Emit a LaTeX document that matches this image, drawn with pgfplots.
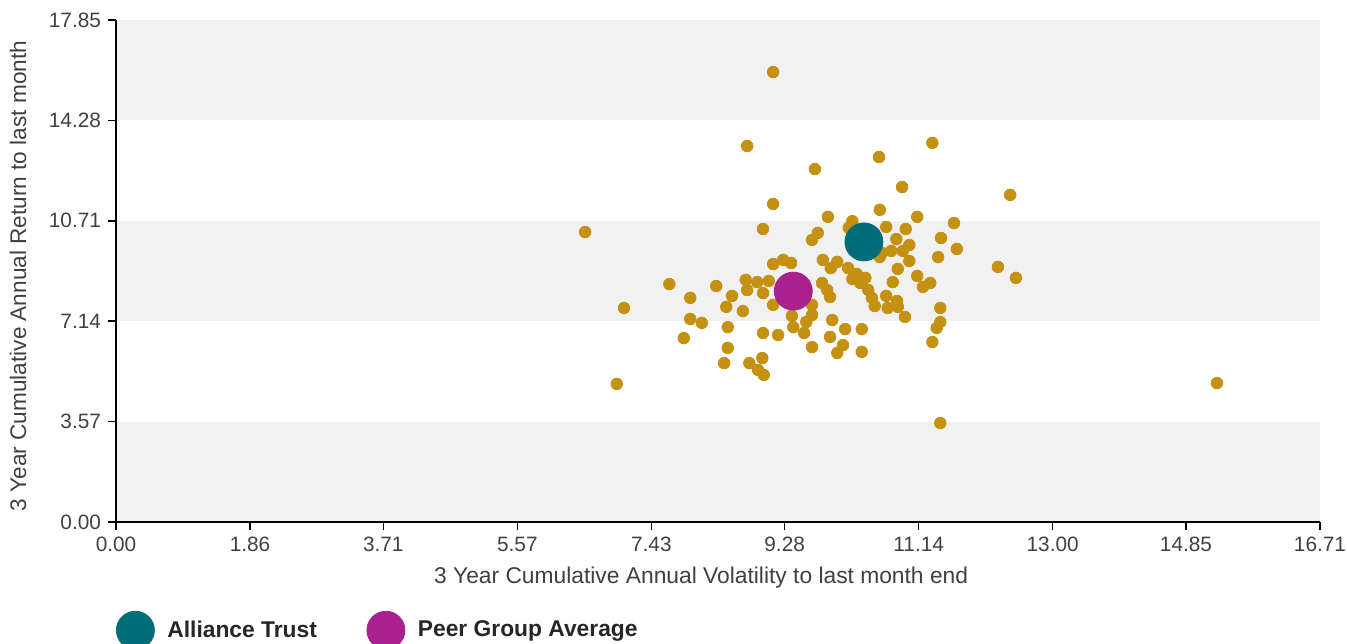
\documentclass[border=0pt]{standalone}
\usepackage{pgfplots}
\pgfplotsset{compat=1.18}
\usepackage{fontspec}
\setmainfont{Liberation Sans}
\definecolor{golddot}{HTML}{C59113}
\definecolor{tealdot}{HTML}{006E78}
\definecolor{peerdot}{HTML}{A8218F}
\definecolor{band}{HTML}{F1F1F2}
\definecolor{txt}{HTML}{404040}
\begin{document}
\begin{tikzpicture}
\path[use as bounding box] (-58pt,-60.5pt) rectangle (615.5pt,261pt);
\begin{axis}[
  scale only axis, width=602pt, height=251pt,
  xmin=0, xmax=16.71, ymin=0, ymax=17.85,
  axis on top,
  axis lines=left,
  axis line style={-, black, line width=1.1pt},
  tick align=outside, major tick length=4pt,
  tick style={black, line width=0.8pt},
  xtick={0,1.86,3.71,5.57,7.43,9.28,11.14,13.00,14.85,16.71},
  ytick={0,3.57,7.14,10.71,14.28,17.85},
  minor tick num=0,
  ticklabel style={font=\fontsize{10.4}{12}\selectfont, text=txt},
  /pgf/number format/.cd, fixed, fixed zerofill, precision=2, assume math mode=true,
  /pgfplots/.cd,
  xlabel={3 Year Cumulative Annual Volatility to last month end},
  ylabel={3 Year Cumulative Annual Return to last month},
  every axis x label/.style={at={(axis description cs:0.486,0)}, anchor=north, yshift=-19pt,
    font=\fontsize{11.4}{13}\selectfont, text=txt},
  every axis y label/.style={at={(axis description cs:-0.0814,0.49)}, anchor=center, rotate=90,
    font=\fontsize{11.3}{13}\selectfont, text=txt},
  legend columns=2,
  legend cell align=left,
  legend style={at={(0,-0.177)}, anchor=north west, draw=none, fill=none, inner sep=0pt,
    nodes={inner sep=0pt},
    font=\bfseries\fontsize{11.4}{13}\selectfont, text=black!85,
    /tikz/every odd column/.append style={column sep=6.5pt},
    /tikz/every even column/.append style={column sep=25pt}},
  legend image code/.code={\draw[#1, mark repeat=1, mark phase=1] plot coordinates {(9.5pt,0pt)};},
]
\fill[band] (axis cs:0,0) rectangle (axis cs:16.71,3.57);
\fill[band] (axis cs:0,7.14) rectangle (axis cs:16.71,10.71);
\fill[band] (axis cs:0,14.28) rectangle (axis cs:16.71,17.85);

% peer group funds
\addplot[only marks, mark=*, mark size=2.9pt, golddot, mark options={draw=golddot, fill=golddot}, forget plot] coordinates {
(9.12,16.00) (8.76,13.37) (11.33,13.48) (10.59,12.98) (9.70,12.55) (10.91,11.91)
(12.41,11.63) (9.12,11.31) (6.51,10.31) (10.60,11.10) (9.88,10.85) (11.12,10.85)
(11.63,10.63) (8.98,10.42) (10.22,10.70) (10.17,10.46) (10.69,10.49) (10.96,10.42)
(9.74,10.28) (9.66,10.03) (10.83,10.06) (11.45,10.10) (11.01,9.85) (11.67,9.71)
(10.63,9.57) (10.76,9.64) (10.92,9.64) (11.41,9.42) (11.01,9.28) (12.24,9.07)
(12.49,8.68) (10.60,9.42) (9.26,9.32) (9.12,9.17) (9.37,9.21) (9.81,9.32)
(10.01,9.25) (9.92,9.03) (10.16,9.03) (10.28,8.82) (10.22,8.64) (10.40,8.68)
(10.33,8.50) (10.85,9.00) (11.12,8.75) (10.78,8.53) (11.20,8.36) (11.30,8.50)
(7.68,8.46) (8.74,8.61) (8.90,8.53) (9.06,8.57) (8.76,8.25) (8.98,8.14)
(8.33,8.39) (7.97,7.97) (8.55,8.04) (8.47,7.65) (8.70,7.50) (9.12,7.72)
(9.80,8.50) (9.87,8.25) (9.91,8.00) (10.44,8.25) (10.49,7.97) (10.53,7.68)
(10.69,8.04) (10.84,7.86) (10.71,7.61) (10.85,7.65) (9.66,7.72) (9.66,7.36)
(9.38,7.33) (9.40,6.93) (9.55,6.72) (9.58,7.11) (9.94,7.18) (9.19,6.65)
(8.98,6.72) (9.66,6.22) (9.91,6.58) (10.12,6.86) (10.35,6.86) (10.09,6.29)
(10.01,6.01) (10.35,6.05) (10.95,7.29) (11.44,7.61) (11.44,7.11) (11.39,6.90)
(11.33,6.40) (11.44,3.52) (7.05,7.61) (7.97,7.22) (8.13,7.08) (7.88,6.54)
(8.49,6.93) (8.49,6.19) (8.44,5.65) (8.79,5.65) (8.97,5.83) (8.91,5.41)
(8.99,5.23) (6.95,4.91) (15.28,4.94)
};
\addplot[only marks, mark=*, mark size=9.5pt, tealdot, mark options={draw=tealdot, fill=tealdot}] coordinates {(10.38,9.96)};
\addlegendentry{Alliance Trust}
\addplot[only marks, mark=*, mark size=9.5pt, peerdot, mark options={draw=peerdot, fill=peerdot}] coordinates {(9.40,8.21)};
\addlegendentry{Peer Group Average}
\end{axis}
\end{tikzpicture}
\end{document}
